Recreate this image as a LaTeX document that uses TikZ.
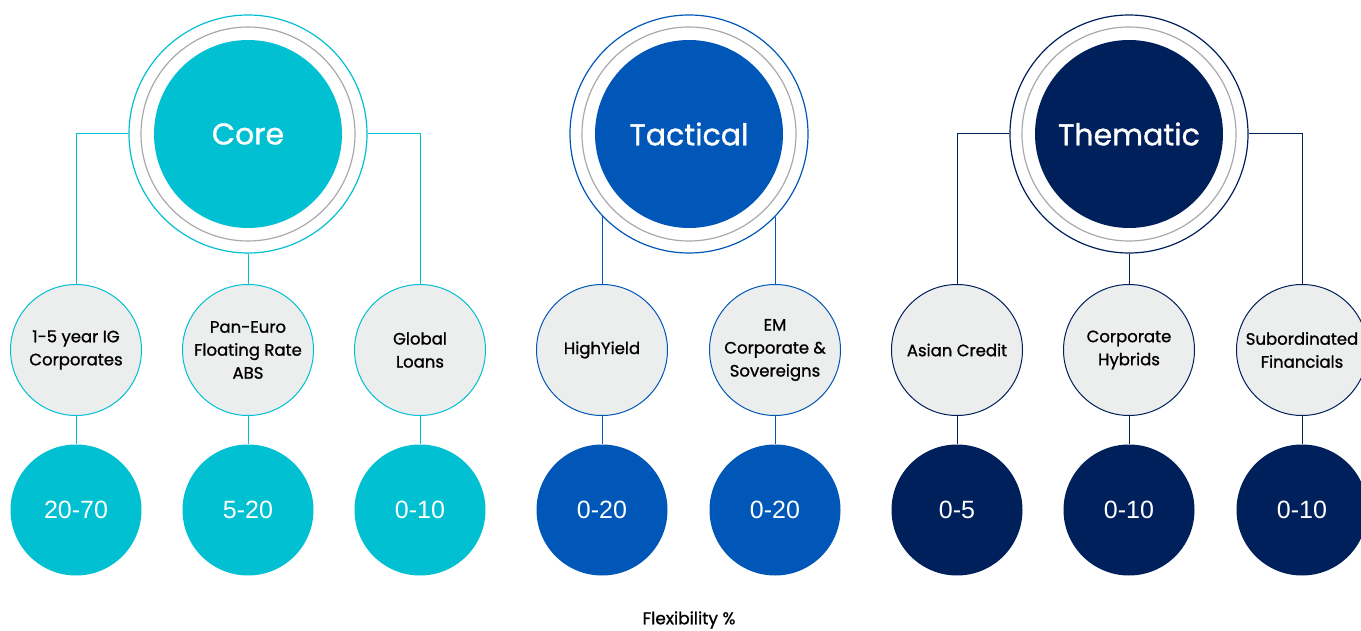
\documentclass[tikz,border=0pt]{standalone}
\usepackage{fontspec}
\setmainfont{Poppins}[FakeBold=1.1]
\newfontfamily\numfont{Liberation Sans}
\definecolor{corecol}{HTML}{00C0D2}
\definecolor{taccol}{HTML}{0057B7}
\definecolor{themcol}{HTML}{00205B}
\definecolor{leafgray}{HTML}{ECEDED}
\definecolor{ringgray}{HTML}{A9A9AB}

\begin{document}
\begin{tikzpicture}[x=1pt, y=-1pt,
  ring/.style={circle, inner sep=0pt, draw=#1, line width=1.2pt, minimum size=238pt},
  grayring/.style={circle, inner sep=0pt, draw=ringgray, line width=1.2pt, minimum size=214pt},
  hub/.style={circle, inner sep=0pt, fill=#1, minimum size=188pt, text=white, font=\fontsize{30}{34}\selectfont},
  leaf/.style={circle, inner sep=0pt, draw=#1, fill=leafgray, line width=1pt, minimum size=131pt, align=center, font=\fontsize{16.5}{23}\selectfont},
  share/.style={circle, inner sep=0pt, fill=#1, minimum size=131pt, text=white, font=\numfont\fontsize{25}{28}\selectfont},
  link/.style={draw=#1, line width=1pt}]

  \useasboundingbox (0,0) rectangle (1361,631);

  % core
  \node[ring=corecol] (core) at (248,134) {};
  \node[grayring] at (core) {};
  \node[hub=corecol] (coreh) at (core) {Core};

  \node[leaf=corecol] (c1) at (76,350) {1-5 year IG\\Corporates};
  \node[leaf=corecol] (c2) at (248,350) {Pan-Euro\\Floating Rate\\ABS};
  \node[leaf=corecol] (c3) at (420,350) {Global\\Loans};

  \node[share=corecol] (c1v) at (76,510) {20-70};
  \node[share=corecol] (c2v) at (248,510) {5-20};
  \node[share=corecol] (c3v) at (420,510) {0-10};

  \draw[link=corecol] (c1.north) |- (core.west);
  \draw[link=corecol] (c3.north) |- (core.east);
  \draw[link=corecol] (core.south) -- (c2.north);
  \foreach \n in {c1,c2,c3}
    \draw[link=corecol] (\n.south) -- (\n v.north);

  % tactical
  \node[ring=taccol] (tac) at (689,134) {};
  \node[grayring] at (tac) {};
  \node[hub=taccol] (tach) at (tac) {Tactical};

  \node[leaf=taccol] (t1) at (602,350) {HighYield};
  \node[leaf=taccol] (t2) at (775,350) {EM\\Corporate \&\\Sovereigns};

  \node[share=taccol] (t1v) at (602,510) {0-20};
  \node[share=taccol] (t2v) at (775,510) {0-20};

  \draw[link=taccol] (t1.north) -- (t1.north |- tac.223);
  \draw[link=taccol] (t2.north) -- (t2.north |- tac.316);
  \foreach \n in {t1,t2}
    \draw[link=taccol] (\n.south) -- (\n v.north);

  % thematic
  \node[ring=themcol] (them) at (1129,134) {};
  \node[grayring] at (them) {};
  \node[hub=themcol] (themh) at (them) {Thematic};

  \node[leaf=themcol] (m1) at (957,350) {Asian Credit};
  \node[leaf=themcol] (m2) at (1129,350) {Corporate\\Hybrids};
  \node[leaf=themcol] (m3) at (1302,350) {Subordinated\\Financials};

  \node[share=themcol] (m1v) at (957,510) {0-5};
  \node[share=themcol] (m2v) at (1129,510) {0-10};
  \node[share=themcol] (m3v) at (1302,510) {0-10};

  \draw[link=themcol] (m1.north) |- (them.west);
  \draw[link=themcol] (m3.north) |- (them.east);
  \draw[link=themcol] (them.south) -- (m2.north);
  \foreach \n in {m1,m2,m3}
    \draw[link=themcol] (\n.south) -- (\n v.north);

  \node[font=\fontsize{17}{19}\selectfont] (flex) at (689,620) {Flexibility \%};

\end{tikzpicture}
\end{document}
